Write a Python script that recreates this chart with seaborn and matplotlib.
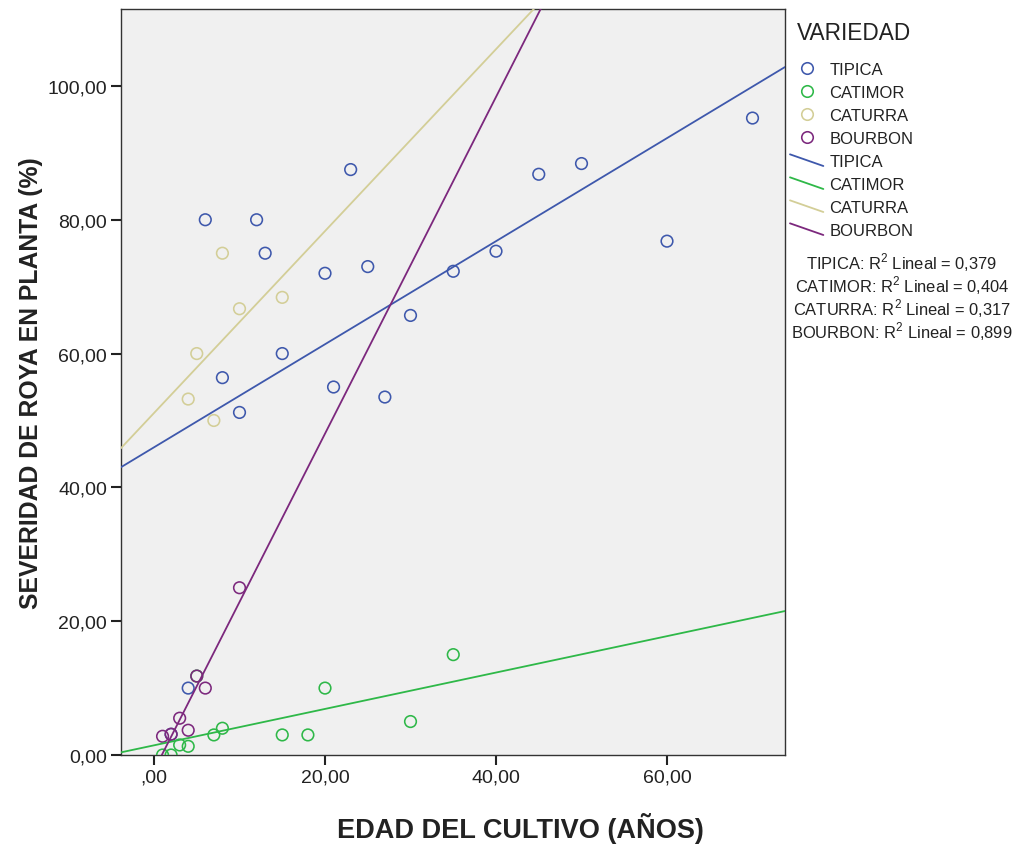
import matplotlib
matplotlib.use("Agg")
import matplotlib.pyplot as plt
from matplotlib.lines import Line2D
from matplotlib.legend_handler import HandlerBase
import pandas as pd
import seaborn as sns

# Varieties, colours and fitted R² values
varieties = ["TIPICA", "CATIMOR", "CATURRA", "BOURBON"]
palette = ["#3E58AC", "#2EB848", "#D3CE97", "#7C287D"]
r2_values = ["0,379", "0,404", "0,317", "0,899"]

# Crop age (years) and rust severity (%) per variety
tipica_edad = [2, 4, 6, 8, 10, 12, 13, 15, 20, 21, 23, 25, 27, 30, 35, 40, 45, 50, 60, 70]
tipica_sev = [3.1, 10.0, 80.0, 56.4, 51.2, 80.0, 75.0, 60.0, 72.0, 55.0, 87.5, 73.0,
              53.5, 65.7, 72.3, 75.3, 86.8, 88.4, 76.8, 95.2]

catimor_edad = [1, 2, 3, 4, 5, 7, 8, 15, 18, 20, 30, 35]
catimor_sev = [0.0, 0.0, 1.5, 1.3, 11.8, 3.0, 4.0, 3.0, 3.0, 10.0, 5.0, 15.0]

caturra_edad = [4, 5, 7, 8, 10, 15]
caturra_sev = [53.2, 60.0, 50.0, 75.0, 66.7, 68.4]

bourbon_edad = [1, 2, 3, 4, 5, 6, 10]
bourbon_sev = [2.8, 3.1, 5.5, 3.7, 11.8, 10.0, 25.0]

x_ticks = [0, 20, 40, 60]
x_tick_labels = [",00", "20,00", "40,00", "60,00"]
y_ticks = [0, 20, 40, 60, 80, 100]
y_tick_labels = ["0,00", "20,00", "40,00", "60,00", "80,00", "100,00"]

sns.set_style("ticks")
plt.rcParams["font.family"] = ["Liberation Sans", "DejaVu Sans"]
plt.rcParams["mathtext.fontset"] = "custom"
plt.rcParams["mathtext.rm"] = "Liberation Sans"

frames = []
for name, xs, ys in [("TIPICA", tipica_edad, tipica_sev),
                     ("CATIMOR", catimor_edad, catimor_sev),
                     ("CATURRA", caturra_edad, caturra_sev),
                     ("BOURBON", bourbon_edad, bourbon_sev)]:
    frames.append(pd.DataFrame({"edad": xs, "severidad": ys, "variedad": name}))
df = pd.concat(frames, ignore_index=True)

W, H = 1027, 845
fig = plt.figure(figsize=(W / 100, H / 100), dpi=100)
ax = fig.add_axes([121 / W, 1 - 756 / H, 664 / W, 746 / H])
ax.set_facecolor("#F0F0F0")
ax.set_xlim(-3.86, 73.8)
ax.set_ylim(0, 111.5)

# Open circles for the observations
sns.scatterplot(data=df, x="edad", y="severidad", hue="variedad", hue_order=varieties,
                palette=palette, s=70, linewidth=1.15, legend=False, ax=ax, zorder=3)
pts = ax.collections[-1]
pts.set_edgecolors(pts.get_facecolors())
pts.set_facecolors("none")

# Linear fit per variety, drawn across the full x range
for var, col in zip(varieties, palette):
    sub = df[df["variedad"] == var]
    sns.regplot(data=sub, x="edad", y="severidad", scatter=False, ci=None,
                truncate=False, color=col, line_kws=dict(lw=1.3, zorder=4), ax=ax)

ax.set_xticks(x_ticks, x_tick_labels)
ax.set_yticks(y_ticks, y_tick_labels)
ax.tick_params(direction="out", length=7, width=1.5, labelsize=14, pad=3,
               colors="#222222", labelcolor="#222222")
for sp in ax.spines.values():
    sp.set_visible(True)
    sp.set_linewidth(1.0)
    sp.set_color("#333333")

ax.set_xlabel("EDAD DEL CULTIVO (AÑOS)", fontsize=19.5, fontweight="bold", color="#222222")
ax.set_ylabel("SEVERIDAD DE ROYA EN PLANTA (%)", fontsize=17.8, fontweight="bold", color="#222222")
ax.xaxis.set_label_coords(0.601, -0.076)
ax.yaxis.set_label_coords(-0.118, 0.5)


class HandlerSlope(HandlerBase):
    """Legend key drawn as a short descending line."""
    def create_artists(self, legend, orig_handle, xdescent, ydescent, width, height,
                       fontsize, trans):
        x0, x1 = -xdescent, -xdescent + width
        y0, y1 = -ydescent + height, -ydescent
        ln = Line2D([x0, x1], [y0, y1], color=orig_handle.get_color(),
                    lw=orig_handle.get_linewidth())
        ln.set_transform(trans)
        return [ln]


marker_handles = [Line2D([], [], marker="o", ls="none", mfc="none", mec=c, ms=8.3, mew=1.15)
                  for c in palette]
line_handles = [Line2D([], [], color=c, lw=1.3) for c in palette]
handler_map = {h: HandlerSlope() for h in line_handles}

fig.text(797 / W, 1 - 34 / H, "VARIEDAD", ha="left", va="center",
         fontsize=16.3, color="#222222")

leg = fig.legend(marker_handles + line_handles, varieties + varieties,
                 loc="upper left", bbox_to_anchor=(790 / W, 1 - 63 / H),
                 bbox_transform=fig.transFigure, frameon=False,
                 fontsize=12, handlelength=2.0, handletextpad=0.35, labelspacing=0.48,
                 borderaxespad=0, borderpad=0, handler_map=handler_map)
for t in leg.get_texts():
    t.set_color("#222222")

for i, (var, r2) in enumerate(zip(varieties, r2_values)):
    fig.text(902 / W, 1 - (263 + 23 * i) / H,
             var + r": R$^{\mathregular{2}}$ Lineal = " + r2,
             ha="center", va="center", fontsize=11.9, color="#222222")

fig.savefig("out.png", dpi=100)
